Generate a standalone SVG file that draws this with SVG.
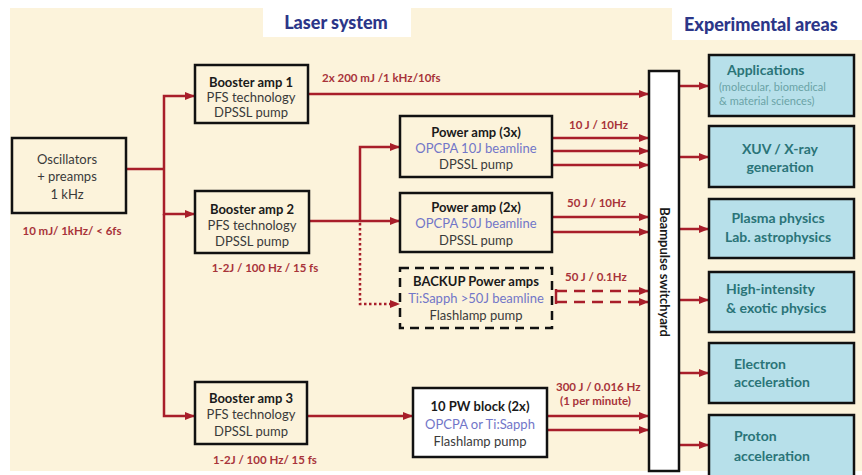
<svg xmlns="http://www.w3.org/2000/svg" width="862" height="475" viewBox="0 0 862 475">
<defs>
<marker id="ah" markerUnits="userSpaceOnUse" markerWidth="10" markerHeight="8" refX="9" refY="4" orient="auto">
<path d="M0,0 L10,4 L0,8 Z" fill="#a81e2a"/>
</marker>
<style>
.bg{fill:#fcf3db}
.box{fill:#fcf3db;stroke:#111;stroke-width:2.5}
.wbox{fill:#ffffff;stroke:#111;stroke-width:2.5}
.dbox{fill:#fcf3db;stroke:#111;stroke-width:2.5;stroke-dasharray:9,6}
.ebox{fill:#b7e0ea;stroke:#111;stroke-width:2.5}
.ln{fill:none;stroke:#a81e2a;stroke-width:2.5}
.dot{fill:none;stroke:#a81e2a;stroke-width:2.5;stroke-dasharray:2.5,2.5}
.dsh{fill:none;stroke:#a81e2a;stroke-width:2.5;stroke-dasharray:11,7}
text{font-family:Lato,"Open Sans",sans-serif;font-size:13px;fill:#3a3a3a}
.c{text-anchor:middle}
.b{font-weight:bold;fill:#1a1a1a}
.bl{fill:#7276c8}
.rd{font-weight:bold;fill:#a8333a;font-size:11.5px}
.hd{font-weight:900;font-size:18px;fill:#2c3688}
.tl{font-weight:bold;fill:#2a7478;font-size:14px}
.ts{fill:#6aa3a6;font-size:11px}
</style>
</defs>
<rect x="0" y="0" width="862" height="475" fill="#ffffff"/>
<rect class="bg" x="10" y="8" width="852" height="463"/>
<rect x="263" y="6" width="148" height="31" fill="#ffffff"/>
<rect x="672" y="6" width="190" height="34" fill="#ffffff"/>
<text class="hd c" x="336" y="29">Laser system</text>
<text class="hd" x="684" y="31">Experimental areas</text>

<g id="connectors">
<path class="ln" d="M126,169 H164"/>
<path class="ln" d="M164,169 V96 H194" marker-end="url(#ah)"/>
<path class="ln" d="M164,169 V214 H194" marker-end="url(#ah)"/>
<path class="ln" d="M164,214 V416 H194" marker-end="url(#ah)"/>
<path class="ln" d="M308,94 H648" marker-end="url(#ah)"/>
<path class="ln" d="M309,221 H360 V147 H399" marker-end="url(#ah)"/>
<path class="ln" d="M360,221 H399" marker-end="url(#ah)"/>
<path class="dot" d="M360,223 V304 H399" marker-end="url(#ah)"/>
<path class="ln" d="M552,138 H648" marker-end="url(#ah)"/>
<path class="ln" d="M552,151 H648" marker-end="url(#ah)"/>
<path class="ln" d="M552,165 H648" marker-end="url(#ah)"/>
<path class="ln" d="M552,217 H648" marker-end="url(#ah)"/>
<path class="ln" d="M552,232 H648" marker-end="url(#ah)"/>
<path class="dsh" d="M556,291 H648" marker-end="url(#ah)"/>
<path class="dsh" d="M556,302 H648" marker-end="url(#ah)"/>
<path class="ln" d="M556,289 V304"/>
<path class="ln" d="M307,416 H412" marker-end="url(#ah)"/>
<path class="ln" d="M547,416 H648" marker-end="url(#ah)"/>
<path class="ln" d="M547,430 H648" marker-end="url(#ah)"/>
<path class="ln" d="M679,86 H708" marker-end="url(#ah)"/>
<path class="ln" d="M679,157 H708" marker-end="url(#ah)"/>
<path class="ln" d="M679,229 H708" marker-end="url(#ah)"/>
<path class="ln" d="M679,300 H708" marker-end="url(#ah)"/>
<path class="ln" d="M679,373 H708" marker-end="url(#ah)"/>
<path class="ln" d="M679,445 H708" marker-end="url(#ah)"/>
</g>

<g id="labels">
<text class="rd c" x="72" y="235">10 mJ/ 1kHz/ &lt; 6fs</text>
<text class="rd" x="322" y="82">2x 200 mJ /1 kHz/10fs</text>
<text class="rd c" x="265" y="272">1-2J / 100 Hz / 15 fs</text>
<text class="rd c" x="265" y="464">1-2J / 100 Hz/ 15 fs</text>
<text class="rd" x="569" y="129">10 J / 10Hz</text>
<text class="rd" x="567" y="207">50 J / 10Hz</text>
<text class="rd" x="565" y="281">50 J / 0.1Hz</text>
<text class="rd" x="556" y="391">300 J / 0.016 Hz</text>
<text class="rd" x="560" y="405">(1 per minute)</text>
</g>

<g id="oscillators">
<rect class="box" x="12" y="138" width="114" height="75"/>
<text class="c" x="67" y="164">Oscillators</text>
<text class="c" x="67" y="181">+ preamps</text>
<text class="c" x="67" y="199">1 kHz</text>
</g>
<g id="booster1">
<rect class="box" x="195" y="65" width="113" height="58"/>
<text class="c b" x="251" y="87">Booster amp 1</text>
<text class="c" x="251" y="102">PFS technology</text>
<text class="c" x="251" y="117">DPSSL pump</text>
</g>
<g id="booster2">
<rect class="box" x="195" y="191" width="114" height="62"/>
<text class="c b" x="252" y="214">Booster amp 2</text>
<text class="c" x="252" y="230">PFS technology</text>
<text class="c" x="252" y="246">DPSSL pump</text>
</g>
<g id="booster3">
<rect class="box" x="195" y="382" width="112" height="62"/>
<text class="c b" x="251" y="403">Booster amp 3</text>
<text class="c" x="251" y="419">PFS technology</text>
<text class="c" x="251" y="436">DPSSL pump</text>
</g>
<g id="poweramp3">
<rect class="box" x="400" y="116" width="152" height="61"/>
<text class="c b" x="476" y="137">Power amp  (3x)</text>
<text class="c bl" x="476" y="153">OPCPA 10J beamline</text>
<text class="c" x="476" y="169">DPSSL pump</text>
</g>
<g id="poweramp2">
<rect class="box" x="400" y="193" width="152" height="59"/>
<text class="c b" x="476" y="212">Power amp  (2x)</text>
<text class="c bl" x="476" y="228">OPCPA 50J beamline</text>
<text class="c" x="476" y="245">DPSSL pump</text>
</g>
<g id="backup">
<rect class="dbox" x="400" y="268" width="152" height="60"/>
<text class="c b" x="476" y="286">BACKUP Power amps</text>
<text class="c bl" x="476" y="303">Ti:Sapph &gt;50J beamline</text>
<text class="c" x="476" y="320">Flashlamp pump</text>
</g>
<g id="pwblock">
<rect class="wbox" x="413" y="388" width="134" height="69"/>
<text class="c b" x="480" y="411">10 PW block (2x)</text>
<text class="c bl" x="480" y="429">OPCPA or Ti:Sapph</text>
<text class="c" x="480" y="446">Flashlamp pump</text>
</g>
<g id="switchyard">
<rect class="wbox" x="649" y="71" width="30" height="400"/>
<text class="b c" transform="translate(660,272) rotate(90)">Beampulse switchyard</text>
</g>
<g id="applications">
<rect class="ebox" x="709" y="55" width="145" height="61"/>
<text class="tl" x="727" y="75">Applications</text>
<text class="ts" x="719" y="91">(molecular, biomedical</text>
<text class="ts" x="719" y="105">&amp; material sciences)</text>
</g>
<g id="xuv">
<rect class="ebox" x="709" y="126" width="145" height="61"/>
<text class="tl c" x="780" y="154">XUV / X-ray</text>
<text class="tl c" x="780" y="172">generation</text>
</g>
<g id="plasma">
<rect class="ebox" x="709" y="199" width="145" height="59"/>
<text class="tl c" x="778" y="223">Plasma physics</text>
<text class="tl c" x="778" y="242">Lab. astrophysics</text>
</g>
<g id="highintensity">
<rect class="ebox" x="709" y="272" width="145" height="60"/>
<text class="tl" x="726" y="294">High-intensity</text>
<text class="tl" x="726" y="313">&amp; exotic physics</text>
</g>
<g id="electron">
<rect class="ebox" x="709" y="343" width="145" height="60"/>
<text class="tl" x="734" y="369">Electron</text>
<text class="tl" x="734" y="387">acceleration</text>
</g>
<g id="proton">
<rect class="ebox" x="709" y="415" width="145" height="62"/>
<text class="tl" x="734" y="441">Proton</text>
<text class="tl" x="734" y="461">acceleration</text>
</g>
</svg>
